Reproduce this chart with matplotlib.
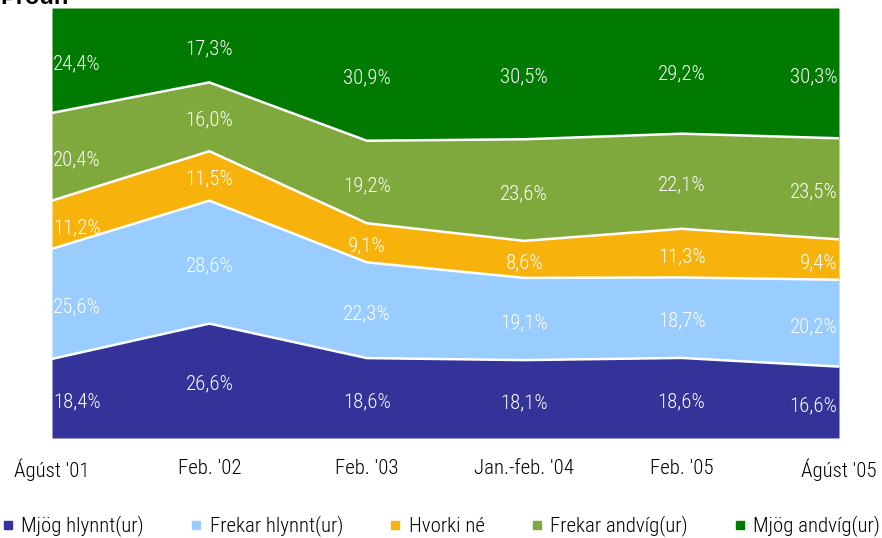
import matplotlib
matplotlib.use("Agg")
import matplotlib.pyplot as plt
from matplotlib.lines import Line2D
import numpy as np

categories = ["Ágúst '01", "Feb. '02", "Feb. '03", "Jan.-feb. '04", "Feb. '05", "Ágúst '05"]
series_names = ["Mjög hlynnt(ur)", "Frekar hlynnt(ur)", "Hvorki né", "Frekar andvíg(ur)", "Mjög andvíg(ur)"]
mjog_hlynnt = [18.4, 26.6, 18.6, 18.1, 18.6, 16.6]
frekar_hlynnt = [25.6, 28.6, 22.3, 19.1, 18.7, 20.2]
hvorki = [11.2, 11.5, 9.1, 8.6, 11.3, 9.4]
frekar_andvig = [20.4, 16.0, 19.2, 23.6, 22.1, 23.5]
mjog_andvig = [24.4, 17.3, 30.9, 30.5, 29.2, 30.3]
colors = ["#333399", "#99CCFF", "#F7B30B", "#7FA83D", "#007A00"]

series = [mjog_hlynnt, frekar_hlynnt, hvorki, frekar_andvig, mjog_andvig]
narrow = ["Roboto Condensed", "Archivo Narrow", "Liberation Sans", "DejaVu Sans"]
FS = 15
W = "light"

fig = plt.figure(figsize=(8.82, 5.38), dpi=100)
ax = fig.add_axes([52/882, 1-438/538, (839-52)/882, 430/538])

x = np.arange(len(categories))
data = np.array(series, dtype=float)
totals = data.sum(axis=0)
pct = data / totals * 100
cum = np.vstack([np.zeros(len(x)), np.cumsum(pct, axis=0)])

for i in range(len(series)):
    ax.fill_between(x, cum[i], cum[i+1], color=colors[i], linewidth=0)
for i in range(1, len(series)):
    ax.plot(x, cum[i], color="white", linewidth=1.8, solid_joinstyle="miter")

for i in range(len(series)):
    for j in range(len(x)):
        mid = (cum[i][j] + cum[i+1][j]) / 2
        label = f"{data[i][j]:.1f}%".replace(".", ",")
        if j == 0:
            xx, ha = x[j] + 0.005, "left"
        elif j == len(x) - 1:
            xx, ha = x[j] - 0.01, "right"
        else:
            xx, ha = x[j], "center"
        ax.text(xx, mid - 0.8, label, ha=ha, va="center", color="white",
                fontsize=FS, family=narrow, fontweight=W)

ax.set_xlim(0, len(x) - 1)
ax.set_ylim(0, 100)
ax.set_yticks([])
ax.set_xticks(x)
ax.set_xticklabels(categories, family=narrow, fontsize=FS, fontweight=W)
ax.tick_params(axis="x", length=0, pad=15)
for s in ax.spines.values():
    s.set_visible(False)

fig.text(0.0, 1 - 4/538, "Þróun", ha="left", va="baseline", fontsize=17,
         fontweight="bold", family=["Liberation Sans", "DejaVu Sans"])

handles = [Line2D([], [], marker="s", linestyle="none", color=c, markersize=6) for c in colors]
fig.legend(handles, series_names, loc="center", bbox_to_anchor=(0.5, 1 - 526/538),
           ncol=5, frameon=False, prop={"family": narrow, "size": FS, "weight": W},
           handletextpad=0.35, columnspacing=2.2, handlelength=0.6, borderaxespad=0)

fig.savefig("out.png", dpi=100)
